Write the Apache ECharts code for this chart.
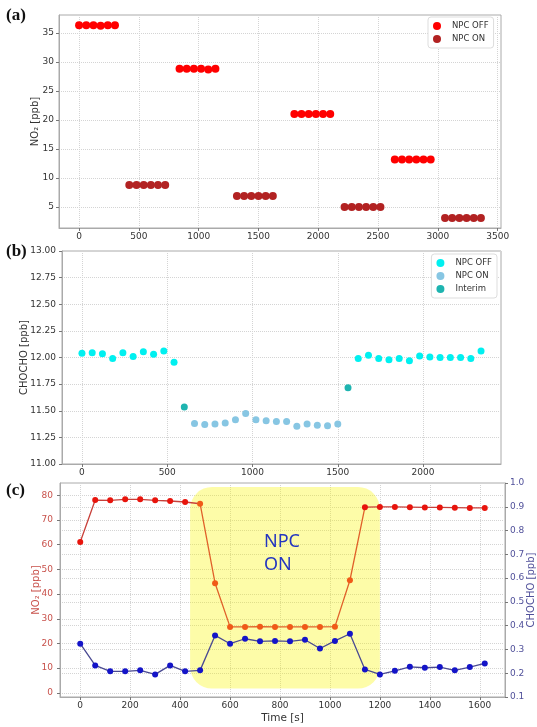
<!DOCTYPE html>
<html><head><meta charset="utf-8">
<script src="https://cdn.jsdelivr.net/npm/echarts@6/dist/echarts.min.js"></script>
<style>html,body{margin:0;padding:0;background:#fff}#c{width:537px;height:727px}</style>
</head><body><div id="c"></div>
<script>
// ---------- Panel (a): NO2 steps ----------
const aOffX = [0,60,120,180,240,300, 840,900,960,1020,1080,1140, 1800,1860,1920,1980,2040,2100, 2640,2700,2760,2820,2880,2940];
const aOffY = [36.3,36.3,36.3,36.2,36.3,36.3, 28.8,28.8,28.8,28.8,28.7,28.8, 21.0,21.0,21.0,21.0,21.0,21.0, 13.2,13.2,13.2,13.2,13.2,13.2];
const aOnX  = [420,480,540,600,660,720, 1320,1380,1440,1500,1560,1620, 2220,2280,2340,2400,2460,2520, 3060,3120,3180,3240,3300,3360];
const aOnY  = [8.8,8.8,8.8,8.8,8.8,8.8, 6.9,6.9,6.9,6.9,6.9,6.9, 5.0,5.0,5.0,5.0,5.0,5.0, 3.1,3.1,3.1,3.1,3.1,3.1];
const aXTicks = [0,500,1000,1500,2000,2500,3000,3500];
const aYTicks = [5,10,15,20,25,30,35];

// ---------- Panel (b): CHOCHO ----------
const bOffX = [0,60,120,180,240,300,360,420,480,540, 1620,1680,1740,1800,1860,1920,1980,2040,2100,2160,2220,2280,2340];
const bOffY = [12.04,12.045,12.035,11.99,12.045,12.01,12.055,12.03,12.06,11.955, 11.99,12.02,11.99,11.98,11.99,11.97,12.015,12.005,12.0,12.0,12.0,11.99,12.06];
const bOnX  = [660,720,780,840,900,960,1020,1080,1140,1200,1260,1320,1380,1440,1500];
const bOnY  = [11.38,11.37,11.375,11.385,11.415,11.475,11.415,11.405,11.40,11.40,11.355,11.375,11.365,11.36,11.375];
const bIntX = [600,1560];
const bIntY = [11.535,11.715];
const bXTicks = [0,500,1000,1500,2000];

// ---------- Panel (c): time series ----------
const cTime = [0,60,120,180,240,300,360,420,480,540,600,660,720,780,840,900,960,1020,1080,1140,1200,1260,1320,1380,1440,1500,1560,1620];
const cNO2  = [61.1,78.1,78.0,78.4,78.4,78.0,77.7,77.3,76.6,44.4,26.7,26.7,26.8,26.7,26.7,26.7,26.7,26.8,45.6,75.2,75.3,75.3,75.2,75.1,75.1,75.0,74.9,74.9];
const cCHO  = [0.324,0.233,0.208,0.208,0.212,0.195,0.233,0.208,0.212,0.359,0.324,0.345,0.334,0.336,0.334,0.341,0.304,0.336,0.366,0.216,0.195,0.210,0.227,0.223,0.226,0.212,0.226,0.241];
const cOnFirst = 480, cOnLast = 1080;          // NPC ON samples (orange)
const cXTicks = [0,200,400,600,800,1000,1200,1400,1600];
const cYTicks = [0,10,20,30,40,50,60,70,80];
const npcBox = {x0: 440, x1: 1200, y0: 1.7, y1: 83.4};
const npcText = {x: 736, y: 56.4, text: 'NPC\nON'};

const FONT = 'DejaVu Sans';
const plain = v => String(v);
const lab = {fontFamily: FONT, fontSize: 9, color: '#333'};
const split = {show: true, lineStyle: {color: '#d4d4d4', type: 'dotted', width: 1}};
const tick = {show: true, length: 3, lineStyle: {color: '#777'}};
const aline = {show: true, onZero: false, lineStyle: {color: '#aaa'}};

const zip = (xs, ys) => xs.map((x, i) => [x, ys[i]]);

const redData = cTime.map((t, i) => {
  if (t > cOnFirst && t <= cOnLast) return [t, null];
  if (t === cOnFirst) return {value: [t, cNO2[i]], symbol: 'none'};
  return [t, cNO2[i]];
});
const orangeData = cTime.map((t, i) => {
  if (t >= cOnFirst && t <= cOnLast) return [t, cNO2[i]];
  if (t > cOnLast && cTime[i - 1] === cOnLast) return {value: [t, cNO2[i]], symbol: 'none'};
  return [t, null];
});

const gridBase = {show: true, borderColor: '#aaa', borderWidth: 1, outerBoundsMode: 'none', containLabel: false};
const yName = (txt, gap, color) => ({name: txt, nameLocation: 'middle', nameGap: gap, nameMoveOverlap: false,
  nameTextStyle: {fontFamily: FONT, fontSize: 10, color: color}});

const option = {
  animation: false,
  backgroundColor: '#fff',
  grid: [
    Object.assign({left: 59, right: 36, top: 15, height: 213}, gridBase),
    Object.assign({left: 62, right: 36, top: 251, height: 213}, gridBase),
    Object.assign({left: 60, right: 32, top: 483, height: 214}, gridBase)
  ],
  legend: [
    {data: ['aOff', 'aOn'], orient: 'vertical', left: 428, top: 17, padding: [4, 5, 4, 5],
     itemWidth: 16, itemHeight: 8, itemGap: 3, icon: 'circle',
     borderColor: '#ddd', borderWidth: 1, borderRadius: 3, backgroundColor: '#fff',
     formatter: n => ({aOff: 'NPC OFF', aOn: 'NPC ON'})[n],
     textStyle: {fontFamily: FONT, fontSize: 8.5, color: '#333', lineHeight: 10, padding: [0, 0, 0, 2]}},
    {data: ['bOff', 'bOn', 'bInt'], orient: 'vertical', right: 40, top: 254, padding: [4, 5, 4, 5],
     itemWidth: 16, itemHeight: 8, itemGap: 3, icon: 'circle',
     borderColor: '#ddd', borderWidth: 1, borderRadius: 3, backgroundColor: '#fff',
     formatter: n => ({bOff: 'NPC OFF', bOn: 'NPC ON', bInt: 'Interim'})[n],
     textStyle: {fontFamily: FONT, fontSize: 8.5, color: '#333', lineHeight: 10, padding: [0, 0, 0, 2]}}
  ],
  xAxis: [
    {type: 'value', gridIndex: 0, min: -168, max: 3528, axisLine: aline,
     axisTick: Object.assign({customValues: aXTicks}, tick),
     axisLabel: Object.assign({customValues: aXTicks, margin: 4, formatter: plain}, lab), splitLine: split},
    {type: 'value', gridIndex: 1, min: -117, max: 2457, axisLine: aline,
     axisTick: Object.assign({customValues: bXTicks}, tick),
     axisLabel: Object.assign({customValues: bXTicks, margin: 4, formatter: plain}, lab), splitLine: split},
    {type: 'value', gridIndex: 2, min: -81, max: 1701, axisLine: aline,
     axisTick: Object.assign({customValues: cXTicks}, tick),
     axisLabel: Object.assign({customValues: cXTicks, margin: 4, formatter: plain}, lab), splitLine: split,
     name: 'Time [s]', nameLocation: 'middle', nameGap: 16, nameMoveOverlap: false,
     nameTextStyle: {fontFamily: FONT, fontSize: 10.5, color: '#333'}}
  ],
  yAxis: [
    Object.assign({type: 'value', gridIndex: 0, min: 1.38, max: 38.07, axisLine: aline,
     axisTick: Object.assign({customValues: aYTicks}, tick),
     axisLabel: Object.assign({customValues: aYTicks, margin: 5, formatter: plain}, lab), splitLine: split},
     yName('NO₂ [ppb]', 19, '#333')),
    Object.assign({type: 'value', gridIndex: 1, min: 11, max: 13, interval: 0.25, axisLine: aline, axisTick: tick,
     axisLabel: Object.assign({margin: 6, formatter: v => v.toFixed(2)}, lab), splitLine: split},
     yName('CHOCHO [ppb]', 33, '#333')),
    Object.assign({type: 'value', gridIndex: 2, min: -1.7, max: 85, axisLine: aline,
     axisTick: Object.assign({customValues: cYTicks}, tick),
     axisLabel: Object.assign({}, lab, {customValues: cYTicks, margin: 7, color: '#c8504a', formatter: plain}), splitLine: split},
     yName('NO₂ [ppb]', 19, '#c8504a')),
    Object.assign({type: 'value', gridIndex: 2, position: 'right', min: 0.1, max: 1.0, interval: 0.1, axisLine: aline, axisTick: tick,
     axisLabel: Object.assign({}, lab, {margin: 5, color: '#50509a', formatter: v => v.toFixed(1)}), splitLine: split},
     yName('CHOCHO [ppb]', 21, '#50509a'))
  ],
  series: [
    {name: 'aOff', type: 'scatter', xAxisIndex: 0, yAxisIndex: 0, data: zip(aOffX, aOffY),
     symbolSize: 8, itemStyle: {color: '#ff0000', opacity: 1}},
    {name: 'aOn', type: 'scatter', xAxisIndex: 0, yAxisIndex: 0, data: zip(aOnX, aOnY),
     symbolSize: 8, itemStyle: {color: '#b22222', opacity: 1}},
    {name: 'bOff', type: 'scatter', xAxisIndex: 1, yAxisIndex: 1, data: zip(bOffX, bOffY),
     symbolSize: 7, itemStyle: {color: '#00f0f0', opacity: 1}},
    {name: 'bOn', type: 'scatter', xAxisIndex: 1, yAxisIndex: 1, data: zip(bOnX, bOnY),
     symbolSize: 7, itemStyle: {color: '#87c6e3', opacity: 1}},
    {name: 'bInt', type: 'scatter', xAxisIndex: 1, yAxisIndex: 1, data: zip(bIntX, bIntY),
     symbolSize: 7, itemStyle: {color: '#1eb4b0', opacity: 1}},
    {name: 'cNO2', type: 'line', xAxisIndex: 2, yAxisIndex: 2, data: redData, connectNulls: false,
     symbol: 'circle', symbolSize: 6, showSymbol: true,
     lineStyle: {color: '#c8403a', width: 1.3}, itemStyle: {color: '#e8140c', borderWidth: 0}},
    {name: 'cNO2on', type: 'line', xAxisIndex: 2, yAxisIndex: 2, data: orangeData, connectNulls: false,
     symbol: 'circle', symbolSize: 6, showSymbol: true,
     lineStyle: {color: '#e0602a', width: 1.3}, itemStyle: {color: '#f05a18', borderWidth: 0}},
    {name: 'cCHO', type: 'line', xAxisIndex: 2, yAxisIndex: 3, data: zip(cTime, cCHO),
     symbol: 'circle', symbolSize: 6, showSymbol: true,
     lineStyle: {color: '#4a4a92', width: 1.3}, itemStyle: {color: '#1414c8', borderWidth: 0}}
  ]
};

const chart = echarts.init(document.getElementById('c'), null, {renderer: 'canvas'});
chart.setOption(option);

const f = {xAxisIndex: 2, yAxisIndex: 2};
const pTL = chart.convertToPixel(f, [npcBox.x0, npcBox.y1]);
const pBR = chart.convertToPixel(f, [npcBox.x1, npcBox.y0]);
const pT = chart.convertToPixel(f, [npcText.x, npcText.y]);

chart.setOption({
  graphic: [
    {type: 'rect', z: 1, silent: true,
     shape: {x: pTL[0], y: pTL[1], width: pBR[0] - pTL[0], height: pBR[1] - pTL[1], r: 22},
     style: {fill: 'rgba(250,245,0,0.34)'}},
    {type: 'text', z: 3, x: pT[0], y: pT[1],
     style: {text: npcText.text, fill: '#2436c0', font: '18px "Noto Sans"', lineHeight: 23,
             textAlign: 'left', textVerticalAlign: 'middle'}},
    {type: 'text', left: 6, top: 7, style: {text: '(a)', font: 'bold 17px "Liberation Serif"', fill: '#111'}},
    {type: 'text', left: 6, top: 243, style: {text: '(b)', font: 'bold 17px "Liberation Serif"', fill: '#111'}},
    {type: 'text', left: 6, top: 482, style: {text: '(c)', font: 'bold 17px "Liberation Serif"', fill: '#111'}}
  ]
});
</script></body></html>
